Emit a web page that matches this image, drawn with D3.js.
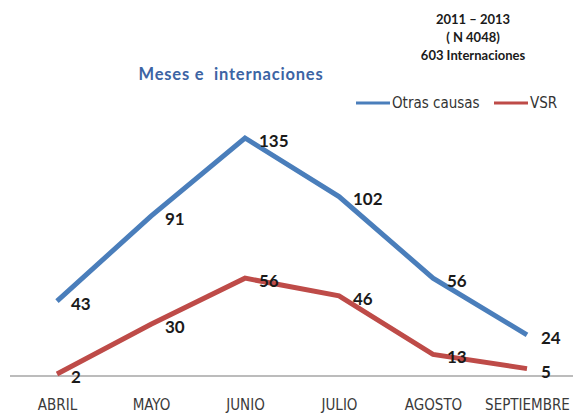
<!DOCTYPE html>
<html>
<head>
<meta charset="utf-8">
<script src="https://cdn.jsdelivr.net/npm/d3@7"></script>
<style>
  html, body { margin: 0; padding: 0; background: #ffffff; }
  svg { display: block; }
  text { font-family: Lato, "Open Sans", sans-serif; }
  .cond { font-family: "DejaVu Sans Condensed", "DejaVu Sans", sans-serif; font-stretch: condensed; }
</style>
</head>
<body>
<svg id="chart" width="573" height="415"></svg>
<script>
// Monthly hospitalisations, 2011–2013
const months = ["ABRIL", "MAYO", "JUNIO", "JULIO", "AGOSTO", "SEPTIEMBRE"];
const otrasCausas = [43, 91, 135, 102, 56, 24];
const vsr = [2, 30, 56, 46, 13, 5];
const seriesNames = ["Otras causas", "VSR"];
const seriesColors = ["#4a7ebb", "#be4b48"];
const headerLines = ["2011 – 2013", "( N 4048)", "603 Internaciones"];
const chartTitle = "Meses e  internaciones";

const svg = d3.select("#chart");

const x = d3.scalePoint().domain(months).range([57, 527]);
const y = d3.scaleLinear().domain([0, 135]).range([377.5, 138]);

// Baseline axis
svg.append("line")
  .attr("x1", 10).attr("x2", 573)
  .attr("y1", 376).attr("y2", 376)
  .attr("stroke", "#a6a6a6").attr("stroke-width", 1.5);

// Category labels
const xAxis = d3.axisBottom(x).tickSize(0).tickPadding(0);
const gx = svg.append("g").attr("transform", "translate(0,405)").call(xAxis);
gx.select(".domain").remove();
gx.selectAll("text")
  .attr("class", "cond")
  .attr("font-size", 15)
  .attr("fill", "#3a3a3a")
  .attr("dy", "0.35em");

const series = [
  { name: seriesNames[0], values: otrasCausas, color: seriesColors[0] },
  { name: seriesNames[1], values: vsr, color: seriesColors[1] }
];

const line = d3.line()
  .x((d, i) => x(months[i]))
  .y(d => y(d));

series.forEach(s => {
  svg.append("path")
    .datum(s.values)
    .attr("d", line)
    .attr("fill", "none")
    .attr("stroke", s.color)
    .attr("stroke-width", 5)
    .attr("stroke-linejoin", "miter");

  svg.append("g").selectAll("text")
    .data(s.values)
    .join("text")
    .attr("x", (d, i) => x(months[i]) + 14)
    .attr("y", d => y(d) + 3)
    .attr("dy", "0.35em")
    .attr("font-size", 17)
    .attr("font-weight", "bold")
    .attr("fill", "#1a1a1a")
    .text(d => d);
});

// Title
svg.append("text")
  .attr("x", 231).attr("y", 74)
  .attr("text-anchor", "middle")
  .attr("dy", "0.35em")
  .attr("font-size", 16.5)
  .attr("font-weight", "bold")
  .attr("letter-spacing", 0.8)
  .attr("font-family", "'Open Sans', sans-serif")
  .attr("fill", "#3c64a4")
  .style("white-space", "pre")
  .text(chartTitle);

// Period / sample header
svg.append("g").selectAll("text")
  .data(headerLines)
  .join("text")
  .attr("x", 473)
  .attr("y", (d, i) => 19 + i * 18)
  .attr("dy", "0.35em")
  .attr("text-anchor", "middle")
  .attr("font-size", 13)
  .attr("font-weight", "bold")
  .attr("fill", "#1a1a1a")
  .text(d => d);

// Legend
const legendX = [356, 494];
const legend = svg.append("g").selectAll("g")
  .data(series)
  .join("g")
  .attr("transform", (d, i) => `translate(${legendX[i]},103)`);
legend.append("line")
  .attr("x1", 0).attr("x2", 34)
  .attr("stroke", d => d.color)
  .attr("stroke-width", 3);
legend.append("text")
  .attr("class", "cond")
  .attr("x", 36)
  .attr("dy", "0.35em")
  .attr("font-size", 15)
  .attr("fill", "#333333")
  .text(d => d.name);
</script>
</body>
</html>
